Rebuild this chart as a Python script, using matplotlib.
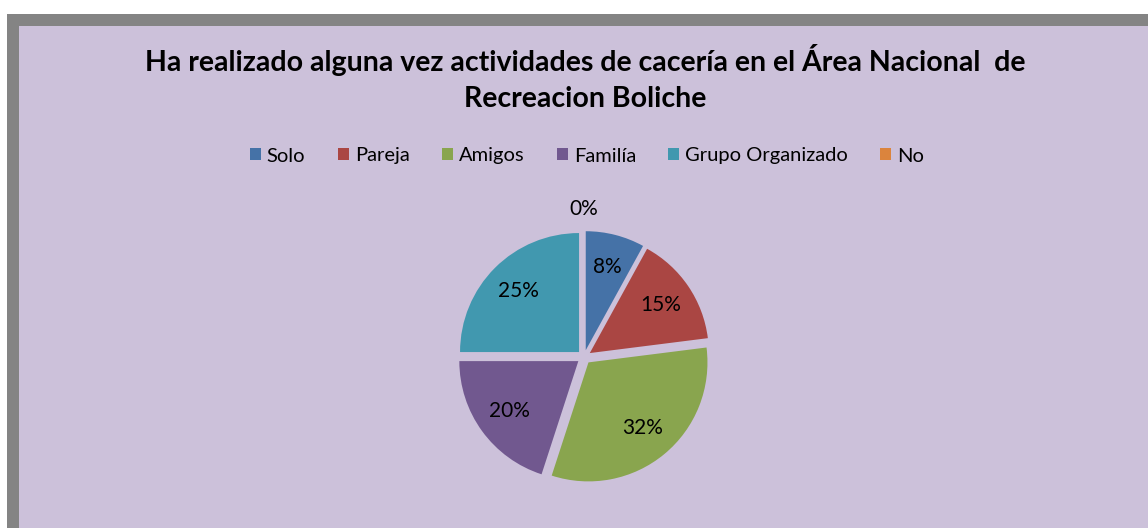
import numpy as np
import matplotlib
matplotlib.use('Agg')
import matplotlib.pyplot as plt
from matplotlib.patches import Rectangle

# --- data ---
categories = ['Solo', 'Pareja', 'Amigos', 'Familía', 'Grupo Organizado', 'No']
values = [8, 15, 32, 20, 25, 0]
colors = ['#4572A7', '#AA4643', '#89A54E', '#71588F', '#4198AF', '#DB843D']
title = 'Ha realizado alguna vez actividades de cacería en el Área Nacional  de\nRecreacion Boliche'

plt.rcParams['font.family'] = ['Lato', 'DejaVu Sans']

W, H = 1148, 528
fig = plt.figure(figsize=(W / 100, H / 100), dpi=100, facecolor='white')

# chart frame: grey border on top/left, lavender plot area
fig.patches.append(Rectangle((7 / W, 0), 1, 1 - 14 / H, transform=fig.transFigure,
                             facecolor='#848484', edgecolor='none', zorder=-2))
fig.patches.append(Rectangle((19 / W, 0), 1, 1 - 26 / H, transform=fig.transFigure,
                             facecolor='#CCC1DA', edgecolor='none', zorder=-1))

fig.text(585 / W, 1 - 78 / H, title, ha='center', va='center', fontsize=20.5,
         fontweight='bold', linespacing=1.5)

# pie axes in pixel coordinates
ax = fig.add_axes([0, 0, 1, 1])
ax.set_xlim(0, W)
ax.set_ylim(0, H)
ax.set_aspect('equal')
ax.axis('off')

cx, cy, r = 584, H - 357, 119
wedges, texts, autotexts = ax.pie(
    values, colors=colors, startangle=90, counterclock=False,
    center=(cx, cy), radius=r, explode=[7] * len(values),
    autopct='%1.0f%%', pctdistance=0.72,
    textprops={'fontsize': 15, 'color': 'black'},
    wedgeprops={'linewidth': 0})
ax.set_xlim(0, W)
ax.set_ylim(0, H)

# zero-value label sits just above the pie
for t, v in zip(autotexts, values):
    if v == 0:
        t.set_position((cx, cy + 1.24 * r))

leg = fig.legend(wedges, categories, loc='center', bbox_to_anchor=(587 / W, 1 - 156 / H),
                 ncol=6, frameon=False, fontsize=14.5, handlelength=0.55, handleheight=0.55,
                 handletextpad=0.3, columnspacing=1.6)

fig.savefig('out.png', dpi=100, facecolor='white')
